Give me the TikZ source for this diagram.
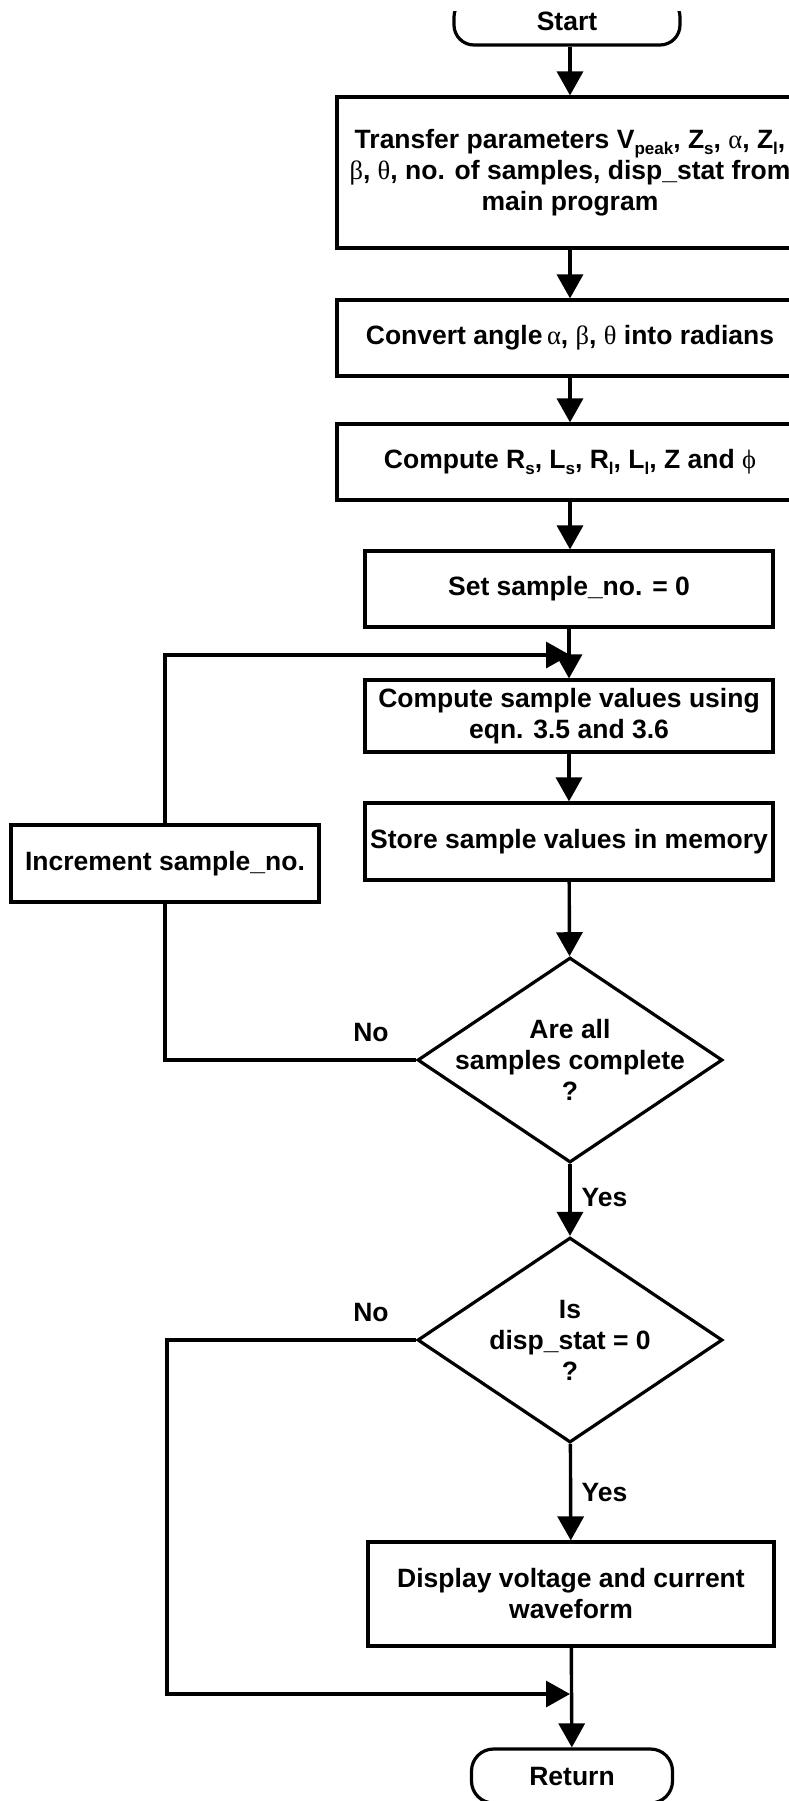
\documentclass[tikz,border=0pt]{standalone}
\usepackage{fontspec}
\setmainfont{Liberation Sans}
\newfontfamily\greekserif{Liberation Serif}
\usetikzlibrary{arrows.meta,shapes.geometric}

% Greek letters in a light serif, subscripts in small sans
\newcommand\gk[1]{{\greekserif\mdseries #1}}
\newcommand\sbs[1]{\raisebox{-0.45ex}{\fontsize{17}{17}\selectfont #1}}

\begin{document}
\begin{tikzpicture}[
  x=1pt, y=-1pt,
  line width=3.4pt,
  >={Triangle[width=26pt,length=24pt]},
  every node/.style={font=\fontsize{26.5}{31}\selectfont\bfseries, inner sep=0pt},
  proc/.style={draw, line width=3.2pt, align=center},
  term/.style={draw, line width=3.2pt, rounded corners=20pt},
  decision/.style={draw, diamond, line width=3.2pt, minimum width=305pt, minimum height=205pt},
  qtext/.style={align=center},
  tag/.style={}
]
\useasboundingbox (0,0) rectangle (789,1801);

% terminal at the top (its upper part lies outside the sheet)
\begin{scope}
  \clip (0,12) rectangle (789,120);
  \node[term, minimum width=226pt, minimum height=48pt] (start) at (567,21) {Start};
\end{scope}

% process boxes of the main column
\node[proc, minimum width=466pt, minimum height=151pt] (transfer) at (570,172.5)
  {Transfer parameters V\sbs{peak}, Z\sbs{s}, \gk{α}, Z\sbs{l},\\
   \gk{β}, \gk{θ}, no. of samples, disp\_stat from\\
   main program};
\node[proc, minimum width=466pt, minimum height=76pt] (convert) at (570,338)
  {Convert angle\,\gk{α}, \gk{β}, \gk{θ} into radians};
\node[proc, minimum width=466pt, minimum height=76pt] (computeR) at (570,462)
  {Compute R\sbs{s}, L\sbs{s}, R\sbs{l}, L\sbs{l}, Z and \gk{ϕ}};
\node[proc, minimum width=408pt, minimum height=76pt] (setno) at (569,589)
  {Set sample\_no. = 0};
\node[proc, minimum width=408pt, minimum height=72pt] (computeS) at (569,716)
  {Compute sample values using\\eqn. 3.5 and 3.6};
\node[proc, minimum width=408pt, minimum height=77pt] (store) at (569,841.5)
  {Store sample values in memory};
\node[proc, minimum width=308pt, minimum height=77pt] (incr) at (165,863.5)
  {Increment sample\_no.};

% decisions
\node[decision] (d1) at (570,1060) {};
\node[qtext] (d1t) at (d1) {Are all\\samples complete\\?};
\node[decision] (d2) at (570,1340) {};
\node[qtext] (d2t) at (d2) {Is\\disp\_stat = 0\\?};

\node[proc, minimum width=406pt, minimum height=104pt] (display) at (571,1594)
  {Display voltage and current\\waveform};
\node[term, rounded corners=22pt, minimum width=201pt, minimum height=54pt] (ret) at (572,1776) {Return};

% branch labels
\node[tag] (no1) at (371,1033) {No};
\node[tag] (no2) at (371,1312) {No};
\node[tag, anchor=west] (yes1) at (580,1197) {Yes};
\node[tag, anchor=west] (yes2) at (580,1492) {Yes};

% junction points
\coordinate (j1) at (570,655);
\coordinate (c2) at (167,1694);
\coordinate (j2) at (570,1694);

% main flow
\draw[->] (start.south -| transfer.north) -- (transfer.north);
\draw[->] (transfer) -- (convert);
\draw[->] (convert) -- (computeR);
\draw[->] (computeR.south) -- (computeR.south |- setno.north);
\draw[->] (setno) -- (computeS);
\draw[->] (computeS) -- (store);
\draw[->] (store) -- (d1);
\draw[->] (d1) -- (d2);
\draw[->] (d2) -- (display);
\draw[->] (display) -- (ret);

% loop back for the next sample
\draw (d1.west) -| (incr.south);
\draw[->] (incr.north) |- (j1);

% skip the display
\draw[->] (d2.west) -| (c2) -- (j2);
\end{tikzpicture}
\end{document}
